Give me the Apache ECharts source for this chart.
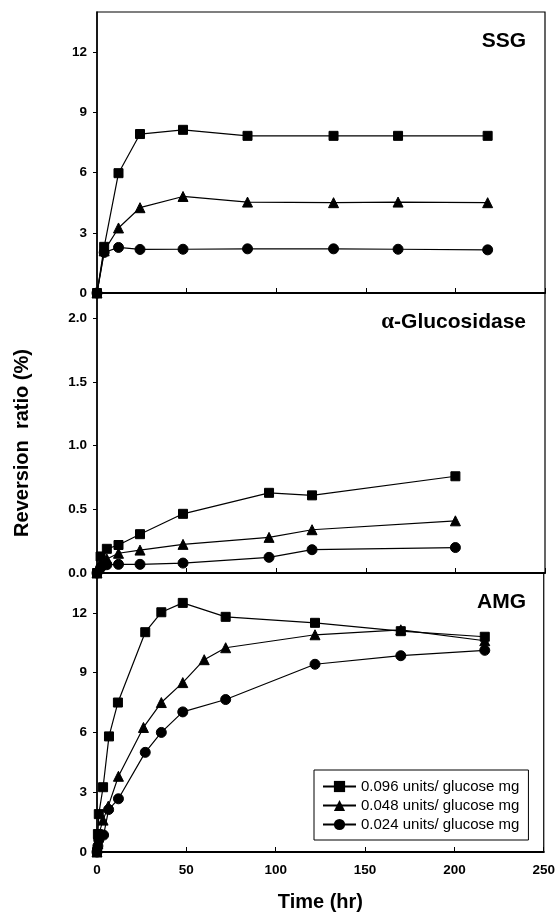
<!DOCTYPE html>
<html>
<head>
<meta charset="utf-8">
<script src="https://cdn.jsdelivr.net/npm/echarts@6/dist/echarts.min.js"></script>
<style>html,body{margin:0;padding:0;background:#fff}#c{width:558px;height:913px}</style>
</head>
<body>
<div id="c"></div>
<script>
// ---- data ----
const seriesNames = ['0.096 units/ glucose mg', '0.048 units/ glucose mg', '0.024 units/ glucose mg'];
const panelTitles = ['SSG', 'α-Glucosidase', 'AMG'];
const xTicks = [0, 50, 100, 150, 200, 250];
const ssgTicks = [0, 3, 6, 9, 12];
const glucTicks = [0, 0.5, 1.0, 1.5, 2.0];
const amgTicks = [0, 3, 6, 9, 12];

const ssgTime = [0, 4, 12, 24, 48, 84, 132, 168, 218];
const ssgHigh = [0, 2.3, 5.97, 7.92, 8.13, 7.83, 7.83, 7.83, 7.83];
const ssgMid  = [0, 2.1, 3.24, 4.25, 4.81, 4.53, 4.5, 4.53, 4.5];
const ssgLow  = [0, 2.02, 2.27, 2.17, 2.18, 2.2, 2.2, 2.18, 2.15];

const glucTime = [0, 2, 5.5, 12, 24, 48, 96, 120, 200];
const glucHigh = [0, 0.13, 0.19, 0.22, 0.305, 0.465, 0.63, 0.61, 0.76];
const glucMid  = [0, 0.08, 0.11, 0.155, 0.18, 0.225, 0.28, 0.34, 0.41];
const glucLow  = [0, 0.04, 0.065, 0.068, 0.068, 0.078, 0.123, 0.183, 0.2];

const amgTimeHigh = [0, 0.5, 1, 3.4, 6.7, 11.7, 27, 36, 48, 72, 122, 170, 217];
const amgHigh     = [0, 0.9, 1.9, 3.25, 5.8, 7.5, 11.03, 12.03, 12.5, 11.8, 11.5, 11.08, 10.8];
const amgTimeMid  = [0, 0.5, 1, 3.4, 6.3, 12, 26, 36, 48, 60, 72, 122, 170, 217];
const amgMid      = [0, 0.4, 0.9, 1.6, 2.3, 3.8, 6.25, 7.5, 8.5, 9.65, 10.25, 10.9, 11.15, 10.6];
const amgTimeLow  = [0, 0.5, 1, 3.7, 6.5, 12, 27, 36, 48, 72, 122, 170, 217];
const amgLow      = [0, 0.3, 0.6, 0.85, 2.13, 2.67, 5.0, 6.0, 7.03, 7.65, 9.42, 9.85, 10.12];

// ---- build ----
const FONT = '"Liberation Sans", Arial, sans-serif';
const zip = (xs, ys) => xs.map((x, i) => [x, ys[i]]);
const symbols = ['rect', 'triangle', 'circle'];
const symSizes = [9, 10, 10];

const grids = [
  { left: 97, width: 448, top: 12, height: 281 },
  { left: 97, width: 448, top: 293, height: 280 },
  { left: 97, width: 448, top: 573, height: 280 }
].map(g => Object.assign(g, { show: true, borderColor: '#000', borderWidth: 1.2, containLabel: false }));

const xAxes = [0, 1, 2].map(i => ({
  type: 'value', gridIndex: i, min: 0, max: 250, interval: 50,
  axisLine: { show: true, lineStyle: { color: '#000', width: 2 } },
  axisTick: { show: true, inside: true, length: 5, lineStyle: { color: '#000', width: 1 } },
  axisLabel: {
    show: i === 2, margin: 11, color: '#000', fontFamily: FONT, fontWeight: 'bold', fontSize: 13.5,
    customValues: xTicks
  },
  splitLine: { show: false },
  name: i === 2 ? 'Time (hr)' : '',
  nameLocation: 'middle', nameGap: 40,
  nameTextStyle: { color: '#000', fontFamily: FONT, fontWeight: 'bold', fontSize: 20 }
}));

const yDefs = [
  { max: 14, ticks: ssgTicks, fmt: v => String(v) },
  { max: 2.2, ticks: glucTicks, fmt: v => v.toFixed(1) },
  { max: 14, ticks: amgTicks, fmt: v => String(v) }
];
const yAxes = yDefs.map((d, i) => ({
  type: 'value', gridIndex: i, min: 0, max: d.max,
  axisLine: { show: true, lineStyle: { color: '#000', width: 1.5 } },
  axisTick: { show: true, inside: false, length: 4, customValues: d.ticks, lineStyle: { color: '#000', width: 1 } },
  axisLabel: {
    margin: 10, color: '#000', fontFamily: FONT, fontWeight: 'bold', fontSize: 13.5,
    customValues: d.ticks, formatter: d.fmt
  },
  splitLine: { show: false }
}));

const panelData = [
  [zip(ssgTime, ssgHigh), zip(ssgTime, ssgMid), zip(ssgTime, ssgLow)],
  [zip(glucTime, glucHigh), zip(glucTime, glucMid), zip(glucTime, glucLow)],
  [zip(amgTimeHigh, amgHigh), zip(amgTimeMid, amgMid), zip(amgTimeLow, amgLow)]
];

const series = [];
panelData.forEach((sets, p) => {
  sets.forEach((data, s) => {
    series.push({
      type: 'line', name: seriesNames[s], xAxisIndex: p, yAxisIndex: p,
      data: data, symbol: symbols[s], symbolSize: symSizes[s], showAllSymbol: true,
      lineStyle: { color: '#000', width: 1.2 },
      itemStyle: { color: '#000', borderColor: '#000' },
      emphasis: { disabled: true }, animation: false, z: 3 + s
    });
  });
});

const titleStyle = { fontFamily: FONT, fontWeight: 'bold', fontSize: 21, color: '#000' };
const chart = echarts.init(document.getElementById('c'), null, { renderer: 'canvas' });
chart.setOption({
  animation: false,
  backgroundColor: '#fff',
  grid: grids,
  xAxis: xAxes,
  yAxis: yAxes,
  series: series,
  legend: {
    data: seriesNames,
    orient: 'vertical', left: 314, top: 770,
    padding: [9, 9, 8, 8], itemGap: 4, itemWidth: 33, itemHeight: 14,
    borderColor: '#000', borderWidth: 1, backgroundColor: '#fff',
    selectedMode: false,
    textStyle: { color: '#000', fontFamily: FONT, fontSize: 15 }
  },
  title: [
    { text: panelTitles[0], right: 32, top: 31, padding: 0, textStyle: titleStyle },
    { text: '{a|α}{b|-Glucosidase}', right: 32, top: 311, padding: 0, textStyle: { rich: {
        a: { fontFamily: '"Liberation Serif", "DejaVu Serif", serif', fontSize: 23, color: '#000' },
        b: titleStyle } } },
    { text: panelTitles[2], right: 32, top: 592, padding: 0, textStyle: titleStyle }
  ],
  graphic: [{
    type: 'text', x: 22, y: 443, rotation: Math.PI / 2,
    style: { text: 'Reversion  ratio (%)', fontFamily: FONT, fontWeight: 'bold', fontSize: 20, fill: '#000', align: 'center', verticalAlign: 'middle' }
  }]
});
</script>
</body>
</html>
